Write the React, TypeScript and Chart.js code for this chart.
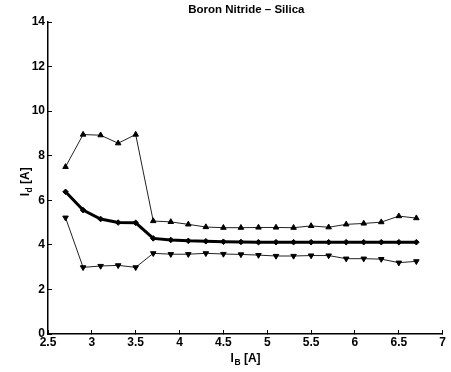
import React, { useEffect, useRef } from "react";
import { Chart, registerables } from "chart.js";

Chart.register(...registerables);

const chartTitle = "Boron Nitride – Silica";
const xTitleMain = "I";
const xTitleSub = "B";
const xTitleRest = " [A]";
const yTitleMain = "I";
const yTitleSub = "d";
const yTitleRest = " [A]";

const currentB = [2.7, 2.9, 3.1, 3.3, 3.5, 3.7, 3.9, 4.1, 4.3, 4.5, 4.7, 4.9, 5.1, 5.3, 5.5, 5.7, 5.9, 6.1, 6.3, 6.5, 6.7];
const upperId = [7.5, 8.95, 8.92, 8.56, 8.95, 5.07, 5.03, 4.92, 4.8, 4.77, 4.77, 4.78, 4.78, 4.77, 4.85, 4.79, 4.92, 4.96, 5.02, 5.29, 5.2];
const meanId = [6.38, 5.56, 5.16, 5.0, 4.99, 4.29, 4.22, 4.18, 4.16, 4.14, 4.13, 4.12, 4.12, 4.12, 4.12, 4.12, 4.12, 4.12, 4.12, 4.12, 4.12];
const lowerId = [5.22, 2.99, 3.05, 3.08, 2.99, 3.62, 3.58, 3.58, 3.62, 3.59, 3.57, 3.54, 3.5, 3.5, 3.52, 3.52, 3.38, 3.38, 3.36, 3.2, 3.26];

const xMin = 2.5;
const xMax = 7;
const xStep = 0.5;
const yMin = 0;
const yMax = 14;
const yStep = 2;

const FONT = "'Liberation Sans', Arial, Helvetica, sans-serif";

const toPts = (ys: number[]) => currentB.map((x, i) => ({ x, y: ys[i] }));

const labelsPlugin = {
  id: "labelsPlugin",
  afterDraw(chart: any) {
    const { ctx, chartArea } = chart;
    const cx = (chartArea.left + chartArea.right) / 2;
    ctx.save();
    ctx.fillStyle = "#000";
    ctx.font = `bold 11.5px ${FONT}`;
    ctx.textAlign = "center";
    ctx.textBaseline = "alphabetic";
    ctx.fillText(chartTitle, cx + 1, 13);

    const mainFont = `bold 12px ${FONT}`;
    const subFont = `bold 8.5px ${FONT}`;
    ctx.textAlign = "left";
    ctx.font = mainFont;
    const w1 = ctx.measureText(xTitleMain).width;
    const w3 = ctx.measureText(xTitleRest).width;
    ctx.font = subFont;
    const w2 = ctx.measureText(xTitleSub).width;
    const x0 = cx - (w1 + w2 + w3) / 2;
    const by = 362;
    ctx.font = mainFont;
    ctx.fillText(xTitleMain, x0, by);
    ctx.font = subFont;
    ctx.fillText(xTitleSub, x0 + w1 + 0.5, by + 3);
    ctx.font = mainFont;
    ctx.fillText(xTitleRest, x0 + w1 + w2 + 0.5, by);

    const cy = (chartArea.top + chartArea.bottom) / 2 + 4;
    ctx.translate(29, cy);
    ctx.rotate(-Math.PI / 2);
    ctx.font = mainFont;
    const v1 = ctx.measureText(yTitleMain).width;
    const v3 = ctx.measureText(yTitleRest).width;
    ctx.font = subFont;
    const v2 = ctx.measureText(yTitleSub).width;
    const y0 = -(v1 + v2 + v3) / 2;
    ctx.font = mainFont;
    ctx.fillText(yTitleMain, y0, 0);
    ctx.font = subFont;
    ctx.fillText(yTitleSub, y0 + v1 + 0.5, 3);
    ctx.font = mainFont;
    ctx.fillText(yTitleRest, y0 + v1 + v2 + 0.5, 0);
    ctx.restore();
  },
};

export default function App() {
  const ref = useRef<HTMLCanvasElement | null>(null);
  useEffect(() => {
    if (!ref.current) return;
    const tickFont = { family: FONT, size: 12, weight: "bold" };
    const chart = new Chart(ref.current, {
      type: "line",
      data: {
        datasets: [
          {
            label: "upper",
            data: toPts(upperId),
            borderColor: "#222",
            backgroundColor: "#000",
            borderWidth: 1,
            pointStyle: "triangle",
            pointRadius: 3.2,
            pointBorderWidth: 1,
            pointBorderColor: "#000",
          },
          {
            label: "mean",
            data: toPts(meanId),
            borderColor: "#000",
            backgroundColor: "#000",
            borderWidth: 3,
            pointStyle: "rectRot",
            pointRadius: 2.8,
            pointBorderWidth: 1,
            pointBorderColor: "#000",
          },
          {
            label: "lower",
            data: toPts(lowerId),
            borderColor: "#222",
            backgroundColor: "#000",
            borderWidth: 1,
            pointStyle: "triangle",
            rotation: 180,
            pointRadius: 3.2,
            pointBorderWidth: 1,
            pointBorderColor: "#000",
          } as any,
        ],
      },
      options: {
        animation: false,
        responsive: false,
        maintainAspectRatio: false,
        layout: { padding: { top: 22, right: 8, left: 0, bottom: 0 } },
        plugins: {
          legend: { display: false },
          title: { display: false },
          tooltip: { enabled: false },
        },
        scales: {
          x: {
            type: "linear",
            min: xMin,
            max: xMax,
            afterFit: (s: any) => {
              s.height = 38;
            },
            ticks: {
              stepSize: xStep,
              color: "#000",
              font: tickFont,
              padding: 5,
              maxRotation: 0,
              autoSkip: false,
              callback: (v: any) => String(Number(v)),
            },
            grid: {
              display: true,
              drawOnChartArea: false,
              drawTicks: true,
              tickLength: -4,
              color: "#000",
              lineWidth: 1,
            },
            border: { display: true, color: "#000", width: 1.5 },
          },
          y: {
            type: "linear",
            min: yMin,
            max: yMax,
            afterFit: (s: any) => {
              s.width = 48;
            },
            ticks: {
              stepSize: yStep,
              color: "#000",
              font: tickFont,
              padding: 7,
              callback: (v: any) => String(Number(v)),
            },
            grid: {
              display: true,
              drawOnChartArea: false,
              drawTicks: true,
              tickLength: -4,
              color: "#000",
              lineWidth: 1,
            },
            border: { display: true, color: "#000", width: 1.5 },
          },
        },
      } as any,
      plugins: [labelsPlugin],
    });
    return () => chart.destroy();
  }, []);
  return (
    <div style={{ position: "absolute", left: 0, top: 0, width: 451, height: 372, background: "#fff" }}>
      <canvas ref={ref} width={451} height={372} style={{ display: "block", width: 451, height: 372 }} />
    </div>
  );
}
